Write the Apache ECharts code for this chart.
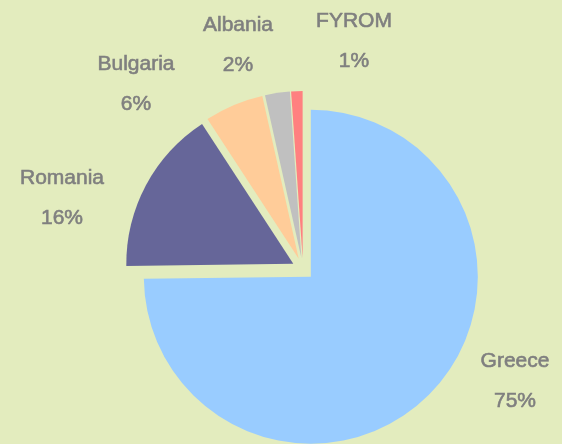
<!DOCTYPE html>
<html>
<head>
<meta charset="utf-8">
<title>Pie</title>
<script src="https://cdn.jsdelivr.net/npm/echarts@6/dist/echarts.min.js"></script>
<style>
  html, body { margin: 0; padding: 0; background: #e3ecbe; }
  #main { width: 562px; height: 444px; }
</style>
</head>
<body>
<div id="main"></div>
<script>
// data
var countries = ['Greece', 'Romania', 'Bulgaria', 'Albania', 'FYROM']
var shares = [74.8, 16.0, 5.7, 2.4, 1.1]
var colors = ['#99ccff', '#666699', '#ffcc99', '#c0c0c0', '#ff8080']

// where each label block sits (centre, px)
var labelPos = [[515, 380], [62, 197], [136, 83], [238, 44], [354, 40]]

var myChart = echarts.init(document.getElementById('main'))

// slices: all pulled out a bit
var sliceItems = countries.map(function (name, i) {
  return {
    name: name,
    value: shares[i],
    selected: true,
    itemStyle: { color: colors[i] }
  }
})

// same data again, only used to carry the labels
var labelItems = countries.map(function (name, i) {
  return { name: name, value: shares[i] }
})

var option = {
  backgroundColor: '#e3ecbe',
  animation: false,
  series: [
    {
      type: 'pie',
      center: [303, 269],
      radius: 167,
      startAngle: 90,
      clockwise: true,
      selectedMode: 'multiple',
      selectedOffset: 11,
      data: sliceItems,
      select: { itemStyle: { borderWidth: 0 } },
      label: { show: false },
      labelLine: { show: false }
    },
    {
      // label layer
      type: 'pie',
      center: [303, 269],
      radius: 167,
      startAngle: 90,
      silent: true,
      percentPrecision: 0,
      data: labelItems,
      itemStyle: { color: 'rgba(0,0,0,0)' },
      label: {
        show: true,
        position: 'outside',
        formatter: '{b}\n{d}%',
        color: '#7f7f7f',
        textBorderColor: '#7f7f7f',
        textBorderWidth: 0.6,
        fontFamily: 'Liberation Sans, Arial, sans-serif',
        fontSize: 21,
        lineHeight: 40,
        align: 'center',
        overflow: 'none',
        width: 200
      },
      labelLine: { show: false },
      labelLayout: function (params) {
        var p = labelPos[params.dataIndex]
        return { x: p[0], y: p[1] + 1, align: 'center', verticalAlign: 'middle' }
      }
    }
  ]
}

myChart.setOption(option)
</script>
</body>
</html>
